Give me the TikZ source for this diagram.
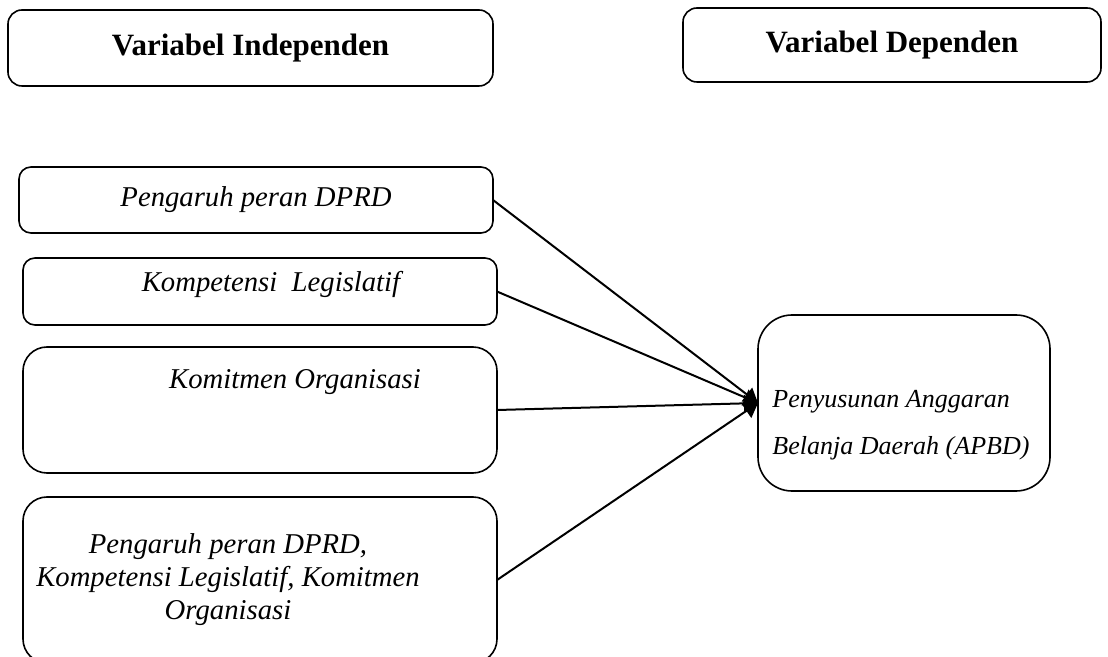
\documentclass[tikz,border=0pt]{standalone}
\usepackage{fontspec}
\setmainfont{Liberation Serif}
\usetikzlibrary{arrows.meta,positioning}

\begin{document}
\begin{tikzpicture}[
  x=0.5pt, y=-0.5pt,
  box/.style={draw, line width=0.8pt, inner sep=0pt, outer sep=0pt},
  head/.style={font=\bfseries\fontsize{15.5}{18}\selectfont},
  txt/.style={inner sep=0pt, font=\itshape\fontsize{14.35}{16.5}\selectfont},
  arrow/.style={-{Triangle[length=7pt, width=8.5pt]}, line width=1pt},
]
  \useasboundingbox (0,0) rectangle (1108,657);

  % Header boxes
  \node[box, rounded corners=7pt, minimum width=242.5pt, minimum height=38pt, head] (indep) at (250.5,48) {Variabel Independen};
  \node[box, rounded corners=7pt, minimum width=209pt, minimum height=37pt, head] (dep) at (892,45) {Variabel Dependen};

  % Independent variables
  \node[box, rounded corners=6pt, minimum width=237pt, minimum height=33pt, txt] (dprd) at (256,200) {Pengaruh peran DPRD};
  \node[box, rounded corners=6pt, minimum width=237pt, minimum height=33.5pt] (komp) at (260,291.5) {};
  \node[box, rounded corners=12pt, minimum width=237pt, minimum height=63pt] (komit) at (260,410) {};
  \node[box, rounded corners=12pt, minimum width=237pt, minimum height=83pt] (all) at (260,580) {};

  \node[txt, anchor=base] (komptxt) at (271,292) {Kompetensi\ \ Legislatif};
  \node[txt, anchor=base] (komittxt) at (295,389) {Komitmen Organisasi};
  \node[txt, align=center] (alltxt) at (228,580) {Pengaruh peran DPRD,\\ Kompetensi Legislatif, Komitmen\\ Organisasi};

  % Dependent variable
  \node[box, rounded corners=17pt, minimum width=146pt, minimum height=88pt] (apbd) at (904,403) {};
  \node[txt, font=\itshape\fontsize{13}{23.5}\selectfont, align=left, anchor=north west] (apbdtxt) at (772,390) {Penyusunan Anggaran\\ Belanja Daerah (APBD)};

  % Arrows
  \draw[arrow] (dprd.east) -- (apbd.west);
  \draw[arrow] (komp.east) -- (apbd.west);
  \draw[arrow] (komit.east) -- (apbd.west);
  \draw[arrow] (all.east) -- (apbd.west);
\end{tikzpicture}
\end{document}
